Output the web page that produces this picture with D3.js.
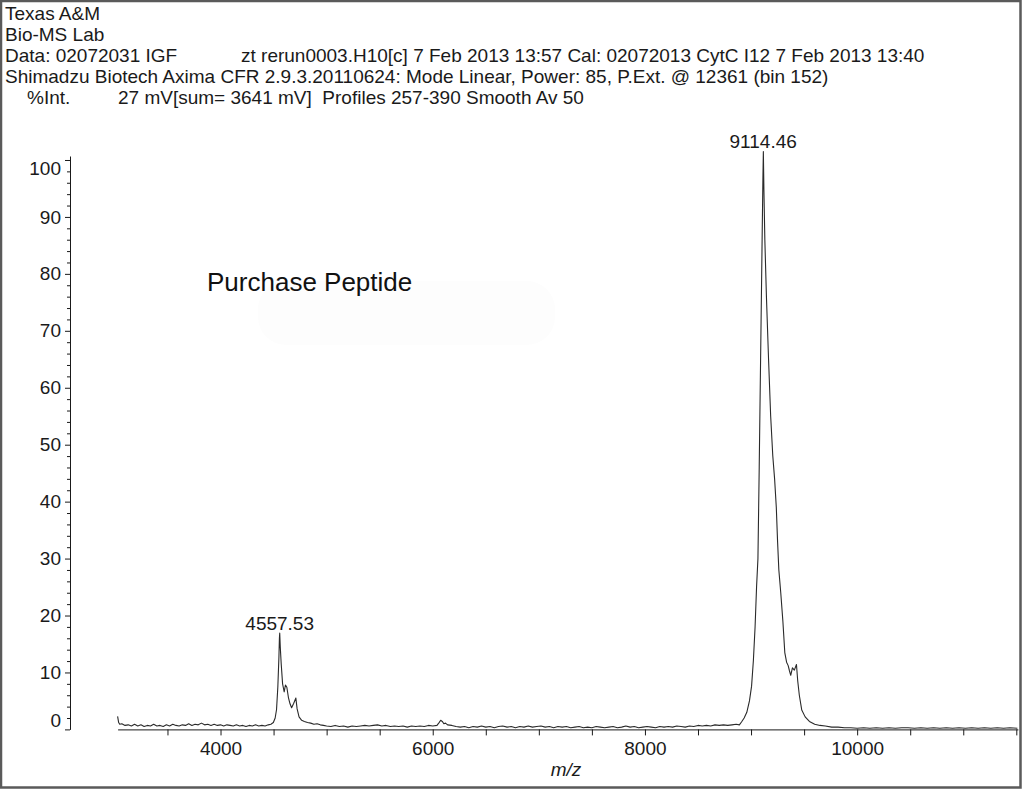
<!DOCTYPE html>
<html>
<head>
<meta charset="utf-8">
<script src="https://cdn.jsdelivr.net/npm/d3@7"></script>
<style>
  body { margin: 0; background: #fff; }
  svg { display: block; font-family: "Liberation Sans", Arial, sans-serif; }
  .pre { white-space: pre; }
</style>
</head>
<body>
<svg width="1023" height="790"></svg>
<script>
// header lines printed by the instrument software
var headerLines = [
    "Texas A&M",
    "Bio-MS Lab"
];
var dataLineA = "Data: 02072031 IGF";
var dataLineB = "zt rerun0003.H10[c] 7 Feb 2013 13:57 Cal: 02072013 CytC I12 7 Feb 2013 13:40";
var instrumentLine = "Shimadzu Biotech Axima CFR 2.9.3.20110624: Mode Linear, Power: 85, P.Ext. @ 12361 (bin 152)";
var intLabel = "%Int.";
var intInfo = "27 mV[sum= 3641 mV]  Profiles 257-390 Smooth Av 50";
var sampleLabel = "Purchase Peptide";
var xLabel = "m/z";

// axis ticks
var xTicks = [3500, 4000, 4500, 5000, 5500, 6000, 6500, 7000, 7500, 8000, 8500, 9000, 9500, 10000, 10500, 11000, 11500];
var xTickLabels = [4000, 6000, 8000, 10000];
var yTicks = [0, 2, 4, 6, 8, 10, 12, 14, 16, 18, 20, 22, 24, 26, 28, 30, 32, 34, 36, 38, 40, 42, 44, 46, 48, 50,
              52, 54, 56, 58, 60, 62, 64, 66, 68, 70, 72, 74, 76, 78, 80, 82, 84, 86, 88, 90, 92, 94, 96, 98, 100];
var yTickLabels = [0, 10, 20, 30, 40, 50, 60, 70, 80, 90, 100];

// labelled peaks
var peakMz = [4557.53, 9114.46];
var peakInt = [16.9, 101.5];

// spectrum (m/z, %Int)
var mz = [
    3030, 3040, 3050, 3070, 3100, 3130, 3160, 3190, 3220, 3250, 3280, 3310, 3340, 3370, 3400, 3430, 3460, 3490,
    3520, 3550, 3580, 3610, 3640, 3670, 3700, 3730, 3760, 3790, 3820, 3850, 3880, 3910, 3940, 3970, 4000, 4030,
    4060, 4090, 4120, 4150, 4180, 4210, 4240, 4270, 4300, 4330, 4360, 4390, 4420, 4450, 4475,
    4498, 4515, 4528, 4540, 4550, 4555, 4558, 4563, 4572, 4585, 4600, 4612, 4625, 4640, 4655, 4670, 4690, 4710,
    4722, 4740, 4765, 4790, 4820, 4850, 4880, 4910, 4940, 4970, 5000,
    5040, 5080, 5120, 5160, 5200, 5240, 5280, 5320, 5360, 5400, 5440, 5480, 5520, 5560, 5600, 5640, 5680, 5720,
    5760, 5800, 5840, 5880, 5920, 5960, 6000, 6040, 6060, 6075, 6090, 6105, 6120, 6140,
    6180, 6220, 6260, 6300, 6340, 6380, 6420, 6460, 6500, 6540, 6580, 6620, 6660, 6700, 6740, 6780, 6820, 6860,
    6900, 6940, 6980, 7020, 7060, 7100, 7140, 7180, 7220, 7260, 7300, 7340, 7380, 7420, 7460, 7500, 7540, 7580,
    7620, 7660, 7700, 7740, 7780, 7820, 7860, 7900, 7940, 7980, 8020, 8060, 8100, 8140, 8180, 8220, 8260, 8300,
    8340, 8380, 8420, 8460, 8500, 8540, 8580, 8620, 8660, 8700, 8740, 8780, 8820, 8860, 8890,
    8910, 8935, 8960, 8985, 9005, 9022, 9038, 9052, 9065, 9077, 9090, 9103, 9112, 9116, 9121, 9130, 9145, 9165,
    9185, 9205, 9222, 9238, 9250, 9262, 9280, 9300, 9318, 9335, 9350, 9362, 9374, 9390, 9408, 9428, 9440, 9455,
    9478, 9510, 9550, 9600, 9650, 9700, 9760, 9820, 9880,
    9940, 10000, 10060, 10120, 10180, 10240, 10300, 10360, 10420, 10480, 10540, 10600, 10660, 10720, 10780,
    10840, 10900, 10960, 11020, 11080, 11140, 11200, 11260, 11320, 11380, 11440, 11510
];
var intensity = [
    2.3, 1.2, 0.9, 1.0, 0.7, 0.8, 0.6, 0.9, 0.6, 0.8, 0.5, 0.7, 0.6, 0.9, 0.6, 0.7, 0.5, 0.8,
    0.6, 0.9, 0.7, 0.6, 0.8, 0.7, 1.0, 0.7, 0.9, 0.8, 1.1, 0.8, 0.9, 0.7, 0.9, 0.7, 0.8, 0.6,
    0.8, 0.7, 0.6, 0.8, 0.6, 0.7, 0.5, 0.7, 0.6, 0.8, 0.6, 0.7, 0.6, 0.8, 0.9,
    1.2, 2.0, 3.5, 7.4, 12.5, 16.0, 16.9, 14.5, 11.5, 8.0, 6.6, 7.8, 7.4, 5.6, 4.5, 3.8, 4.6, 5.5,
    3.6, 2.2, 1.6, 1.4, 1.2, 1.1, 0.9, 1.0, 0.8, 0.7, 0.6,
    0.5, 0.7, 0.5, 0.6, 0.4, 0.6, 0.5, 0.6, 0.7, 0.6, 0.7, 0.8, 0.6, 0.7, 0.5, 0.6, 0.5, 0.6,
    0.4, 0.6, 0.5, 0.6, 0.5, 0.7, 0.6, 0.7, 1.2, 1.6, 1.4, 1.0, 1.1, 0.8,
    0.7, 0.5, 0.4, 0.5, 0.3, 0.5, 0.4, 0.6, 0.4, 0.5, 0.3, 0.5, 0.6, 0.4, 0.5, 0.3, 0.5, 0.4,
    0.6, 0.4, 0.5, 0.6, 0.4, 0.5, 0.3, 0.5, 0.4, 0.5, 0.3, 0.4, 0.5, 0.3, 0.4, 0.3, 0.5, 0.4,
    0.3, 0.4, 0.5, 0.3, 0.4, 0.6, 0.4, 0.5, 0.3, 0.4, 0.5, 0.4, 0.3, 0.5, 0.4, 0.5, 0.4, 0.6,
    0.5, 0.4, 0.6, 0.5, 0.7, 0.6, 0.7, 0.6, 0.8, 0.7, 0.8, 0.7, 0.8, 0.9, 0.8,
    1.3, 2.0, 3.0, 5.0, 7.6, 12.1, 18, 25, 30, 46, 65, 84, 97, 101.5, 95, 86, 76, 65,
    55, 48, 44, 39, 33, 28, 24, 19, 13.5, 11.8, 11.2, 10.3, 9.5, 10.8, 10.4, 11.4, 8.5, 6.0,
    3.4, 2.2, 1.4, 0.9, 0.7, 0.6, 0.4, 0.4, 0.3,
    0.3, 0.2, 0.3, 0.2, 0.3, 0.2, 0.3, 0.2, 0.3, 0.3, 0.2, 0.3, 0.2, 0.3, 0.2,
    0.3, 0.2, 0.3, 0.2, 0.3, 0.2, 0.3, 0.2, 0.3, 0.2, 0.3, 0.2
];

//------------------------------------------------------------------------------
var svg = d3.select("svg");
var ink = "#1a1a1a";

// redaction smear behind the sample name, barely off-white
svg.append("rect")
    .attr("x", 258).attr("y", 281)
    .attr("width", 297).attr("height", 64)
    .attr("rx", 28)
    .attr("fill", "#fdfdfd");

var x = d3.scaleLinear().domain([3030, 11515]).range([117.6, 1017.9]);
var y = d3.scaleLinear().domain([0, 100.7]).range([729.4, 156]);

//---------------------------------------------------------------------
// header text
var header = svg.append("g").attr("font-size", 19).attr("fill", ink);
headerLines.forEach(function(t, i) {
    header.append("text").attr("x", 5).attr("y", 19.5 + i * 21).text(t);
});
header.append("text").attr("x", 5).attr("y", 61.5).text(dataLineA);
header.append("text").attr("x", 241).attr("y", 61.5).text(dataLineB);
header.append("text").attr("x", 5).attr("y", 82.5).text(instrumentLine);
header.append("text").attr("x", 27).attr("y", 103.5).text(intLabel);
header.append("text").classed("pre", true).attr("x", 118).attr("y", 103.5).text(intInfo);

//---------------------------------------------------------------------
// axes
var xAxis = d3.axisBottom(x)
    .tickValues(xTicks)
    .tickSize(6)
    .tickSizeOuter(0)
    .tickPadding(6)
    .tickFormat(function(d) { return xTickLabels.indexOf(d) >= 0 ? d : ""; });

var gx = svg.append("g")
    .attr("transform", "translate(0," + y(0) + ")")
    .call(xAxis);
gx.select(".domain").attr("stroke", ink);
gx.selectAll(".tick line").attr("stroke", ink);
gx.selectAll(".tick text")
    .attr("font-size", 19)
    .attr("font-family", "Liberation Sans, Arial, sans-serif")
    .attr("fill", ink);

var yAxis = d3.axisLeft(y)
    .tickValues(yTicks)
    .tickSizeOuter(0)
    .tickPadding(6)
    .tickFormat(function(d) { return yTickLabels.indexOf(d) >= 0 ? d : ""; });

var gy = svg.append("g")
    .attr("transform", "translate(70,0)")
    .call(yAxis);
gy.select(".domain").attr("stroke", ink);
gy.selectAll(".tick line")
    .attr("stroke", ink)
    .attr("x2", function(d) { return d % 10 == 0 ? -5 : -3; });
gy.selectAll(".tick text")
    .attr("x", -9)
    .attr("font-size", 19)
    .attr("font-family", "Liberation Sans, Arial, sans-serif")
    .attr("fill", ink)
    .attr("dy", function(d) {
        // end labels are pulled inside the axis span
        if (d == 0) return "-0.15em";
        if (d == 100) return "0.75em";
        return "0.32em";
    });

svg.append("text")
    .attr("x", 566).attr("y", 776)
    .attr("text-anchor", "middle")
    .attr("font-size", 19)
    .attr("font-style", "italic")
    .attr("fill", ink)
    .text(xLabel);

//---------------------------------------------------------------------
// spectrum trace
var trace = mz.map(function(d, i) { return {mz: d, v: intensity[i]}; });

svg.append("path")
    .datum(trace)
    .attr("fill", "none")
    .attr("stroke", "#2a2a2a")
    .attr("stroke-width", 1.1)
    .attr("stroke-linejoin", "round")
    .attr("d", d3.line()
        .x(function(d) { return x(d.mz); })
        .y(function(d) { return y(d.v); }));

svg.selectAll(".peak-label")
    .data(peakMz)
    .enter()
    .append("text")
    .classed("peak-label", true)
    .attr("x", function(d) { return x(d); })
    .attr("y", function(d, i) { return y(peakInt[i]) - 3; })
    .attr("text-anchor", "middle")
    .attr("font-size", 19)
    .attr("fill", ink)
    .text(function(d) { return d.toFixed(2); });

svg.append("text")
    .attr("x", 207).attr("y", 291)
    .attr("font-size", 26)
    .attr("fill", "#111")
    .text(sampleLabel);

// picture frame
svg.append("rect")
    .attr("x", 1).attr("y", 1)
    .attr("width", 1019.5).attr("height", 786.5)
    .attr("fill", "none")
    .attr("stroke", "#5a5a5a")
    .attr("stroke-width", 2.5);
</script>
</body>
</html>
